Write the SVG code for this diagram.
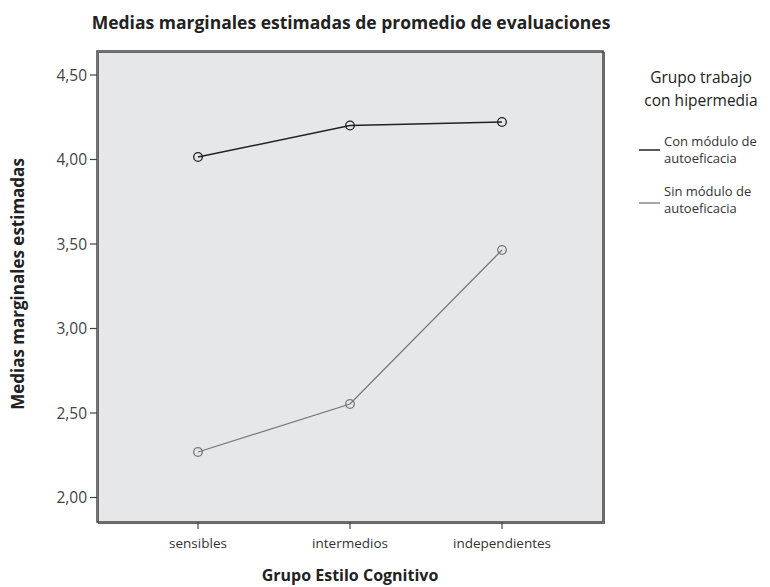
<svg xmlns="http://www.w3.org/2000/svg" width="770" height="587" viewBox="0 0 770 587">
<style>
.t{font-family:"Open Sans","DejaVu Sans",sans-serif;fill:#222}
.b{font-weight:bold}
.ax{font-size:15.5px;fill:#444}
.cat{font-size:13.5px;fill:#333}
.leg{font-size:13px;fill:#333}
.tick{stroke:#444;stroke-width:1.2}
.mk{fill:none;stroke-width:1.3}
</style>
<rect width="770" height="587" fill="#fff"/>
<text class="t b" x="351" y="29" font-size="17.5" text-anchor="middle">Medias marginales estimadas de promedio de evaluaciones</text>
<g id="plot">
<rect x="98.5" y="52.5" width="506" height="471" fill="#e6e7e9" stroke="#666" stroke-width="1"/>
<rect x="97" y="51" width="506" height="471" fill="none" stroke="#444" stroke-width="1.5"/>
</g>
<g id="yaxis">
<line class="tick" x1="90" y1="75" x2="97" y2="75"/>
<line class="tick" x1="90" y1="159.5" x2="97" y2="159.5"/>
<line class="tick" x1="90" y1="244" x2="97" y2="244"/>
<line class="tick" x1="90" y1="328.5" x2="97" y2="328.5"/>
<line class="tick" x1="90" y1="413" x2="97" y2="413"/>
<line class="tick" x1="90" y1="497.5" x2="97" y2="497.5"/>
<text class="t ax" x="87" y="80.5" text-anchor="end">4,50</text>
<text class="t ax" x="87" y="165" text-anchor="end">4,00</text>
<text class="t ax" x="87" y="249.5" text-anchor="end">3,50</text>
<text class="t ax" x="87" y="334" text-anchor="end">3,00</text>
<text class="t ax" x="87" y="418.5" text-anchor="end">2,50</text>
<text class="t ax" x="87" y="503" text-anchor="end">2,00</text>
<text class="t b" x="0" y="0" font-size="17" text-anchor="middle" transform="translate(24,284) rotate(-90)">Medias marginales estimadas</text>
</g>
<g id="xaxis">
<line class="tick" x1="198" y1="522" x2="198" y2="529"/>
<line class="tick" x1="350" y1="522" x2="350" y2="529"/>
<line class="tick" x1="502" y1="522" x2="502" y2="529"/>
<text class="t cat" x="198" y="548" text-anchor="middle">sensibles</text>
<text class="t cat" x="350" y="548" text-anchor="middle">intermedios</text>
<text class="t cat" x="502" y="548" text-anchor="middle">independientes</text>
<text class="t b" x="350" y="581" font-size="16" text-anchor="middle">Grupo Estilo Cognitivo</text>
</g>
<g id="connectors">
<polyline points="198,157 350,125.5 502,122" fill="none" stroke="#222" stroke-width="1.5"/>
<polyline points="198,452 350,404 502,250" fill="none" stroke="#777" stroke-width="1.3"/>
</g>
<g id="series-con">
<circle class="mk" cx="198" cy="157" r="4.3" stroke="#222"/>
<circle class="mk" cx="350" cy="125.5" r="4.3" stroke="#222"/>
<circle class="mk" cx="502" cy="122" r="4.3" stroke="#222"/>
</g>
<g id="series-sin">
<circle class="mk" cx="198" cy="452" r="4.3" stroke="#777"/>
<circle class="mk" cx="350" cy="404" r="4.3" stroke="#777"/>
<circle class="mk" cx="502" cy="250" r="4.3" stroke="#777"/>
</g>
<g id="legend">
<text class="t" x="701" y="83" font-size="15.5" text-anchor="middle" fill="#333">Grupo trabajo</text>
<text class="t" x="701" y="106" font-size="15.5" text-anchor="middle" fill="#333">con hipermedia</text>
<line x1="639" y1="150" x2="660" y2="150" stroke="#222" stroke-width="1.5"/>
<text class="t leg" x="664" y="146">Con módulo de</text>
<text class="t leg" x="664" y="163">autoeficacia</text>
<line x1="639" y1="203" x2="660" y2="203" stroke="#777" stroke-width="1.3"/>
<text class="t leg" x="664" y="196">Sin módulo de</text>
<text class="t leg" x="664" y="213">autoeficacia</text>
</g>
</svg>
